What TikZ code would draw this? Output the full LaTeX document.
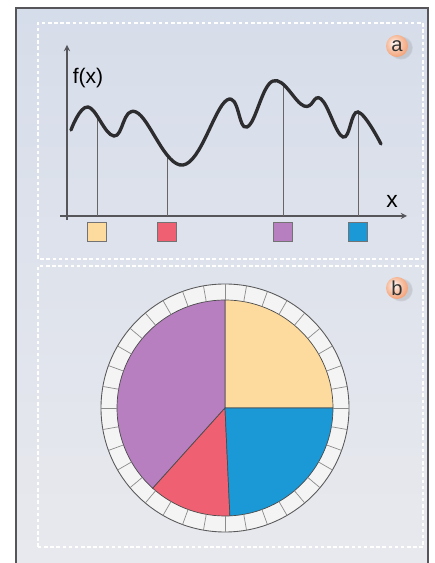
\documentclass[tikz,border=0pt]{standalone}
\usepackage{fontspec}
\setmainfont{Liberation Sans}
\definecolor{paneltop}{RGB}{214,221,234}
\definecolor{panelbot}{RGB}{232,233,238}
\definecolor{framegray}{RGB}{85,85,90}
\definecolor{curvegray}{RGB}{45,45,48}
\definecolor{pieyellow}{RGB}{253,219,158}
\definecolor{piered}{RGB}{238,96,114}
\definecolor{piepurple}{RGB}{183,127,192}
\definecolor{pieblue}{RGB}{27,152,214}
\definecolor{ringwhite}{RGB}{244,244,244}
\definecolor{ballorange}{RGB}{240,135,80}
\usepackage{tikz}
\usetikzlibrary{positioning,shapes,arrows,backgrounds,fit,shadows,intersections}
\pgfdeclareradialshading{peachball}{\pgfpoint{-8bp}{8bp}}{color(0bp)=(white); color(12bp)=(ballorange!40!white); color(30bp)=(ballorange!80!white); color(50bp)=(ballorange)}

\tikzset{
    labelball/.style={circle, minimum size=0.44cm, inner sep=0pt, shading=peachball,
        circular drop shadow={shadow xshift=0.07cm, shadow yshift=-0.03cm, opacity=0.25},
        font=\fontsize{11.5}{12}\selectfont, text=black!80},
    colsquare/.style={draw=black!55, line width=0.3pt, minimum size=0.38cm, inner sep=0pt},
    guide/.style={draw=black!60, line width=0.35pt},
    slice/.style={draw=black!70, line width=0.4pt},
    ringtick/.style={draw=black!45, line width=0.4pt},
}

\begin{document}
\begin{tikzpicture}
    \useasboundingbox (0,0) rectangle (8.7,11.26);
    % page and frame
    \shade[top color=paneltop, bottom color=panelbot] (0.32,0) rectangle (8.56,11.10);
    \draw[framegray, line width=0.7pt] (0.32,0) -- (0.32,11.10) -- (8.56,11.10) -- (8.56,0);
    \draw[white, line width=0.6pt, dash pattern=on 2pt off 1.5pt] (0.76,6.08) rectangle (8.46,10.80);
    \draw[white, line width=0.6pt, dash pattern=on 2pt off 1.5pt] (0.76,0.32) rectangle (8.46,5.94);

    % panel a
    \node[labelball] (lbla) at (7.94,10.34) {a};
    \coordinate (orig) at (1.34,6.94);
    \draw[framegray, line width=0.6pt, -stealth] (1.34,6.86) -- (1.34,10.36);
    \draw[framegray, line width=0.6pt, -stealth] (1.20,6.94) -- (8.14,6.94);
    \node[font=\fontsize{12}{14}\selectfont] (fx) at (1.76,9.70) {f(x)};
    \node[font=\fontsize{13}{15}\selectfont] (xlab) at (7.84,7.24) {x};

    \path[name path=curve] plot[smooth, tension=0.7] coordinates {
        (1.42,8.66) (1.76,9.12) (2.28,8.54) (2.72,9.02) (3.66,7.96) (4.54,9.26) (4.94,8.72)
        (5.46,9.64) (6.08,9.14) (6.42,9.28) (6.86,8.52) (7.16,9.02) (7.62,8.38)};
    \foreach \x/\c [count=\i] in {1.94/pieyellow, 3.34/piered, 5.66/piepurple, 7.16/pieblue} {
        \path[name path=v\i] (\x,7.0) -- (\x,10.5);
        \path[name intersections={of=curve and v\i, by=t\i}];
        \draw[guide] (t\i) -- (t\i |- orig);
        \node[colsquare, fill=\c] (sq\i) at (\x,6.63) {};
    }
    \draw[curvegray, line width=1.9pt, line cap=round] plot[smooth, tension=0.7] coordinates {
        (1.42,8.66) (1.76,9.12) (2.28,8.54) (2.72,9.02) (3.66,7.96) (4.54,9.26) (4.94,8.72)
        (5.46,9.64) (6.08,9.14) (6.42,9.28) (6.86,8.52) (7.16,9.02) (7.62,8.38)};

    % panel b
    \node[labelball] (lblb) at (7.94,5.50) {b};
    \coordinate (pc) at (4.50,3.10);
    \filldraw[fill=ringwhite, draw=black!65, line width=0.5pt] (pc) circle (2.48);
    \filldraw[slice, fill=pieyellow] (pc) -- ++(0:2.16) arc[start angle=0, end angle=90, radius=2.16] -- cycle;
    \filldraw[slice, fill=piepurple] (pc) -- ++(90:2.16) arc[start angle=90, end angle=228, radius=2.16] -- cycle;
    \filldraw[slice, fill=piered] (pc) -- ++(228:2.16) arc[start angle=228, end angle=272.6, radius=2.16] -- cycle;
    \filldraw[slice, fill=pieblue] (pc) -- ++(272.6:2.16) arc[start angle=272.6, end angle=360, radius=2.16] -- cycle;
    \foreach \a in {0,10,...,350}
        \draw[ringtick, shift={(pc)}] (\a:2.16) -- (\a:2.48);
\end{tikzpicture}
\end{document}
